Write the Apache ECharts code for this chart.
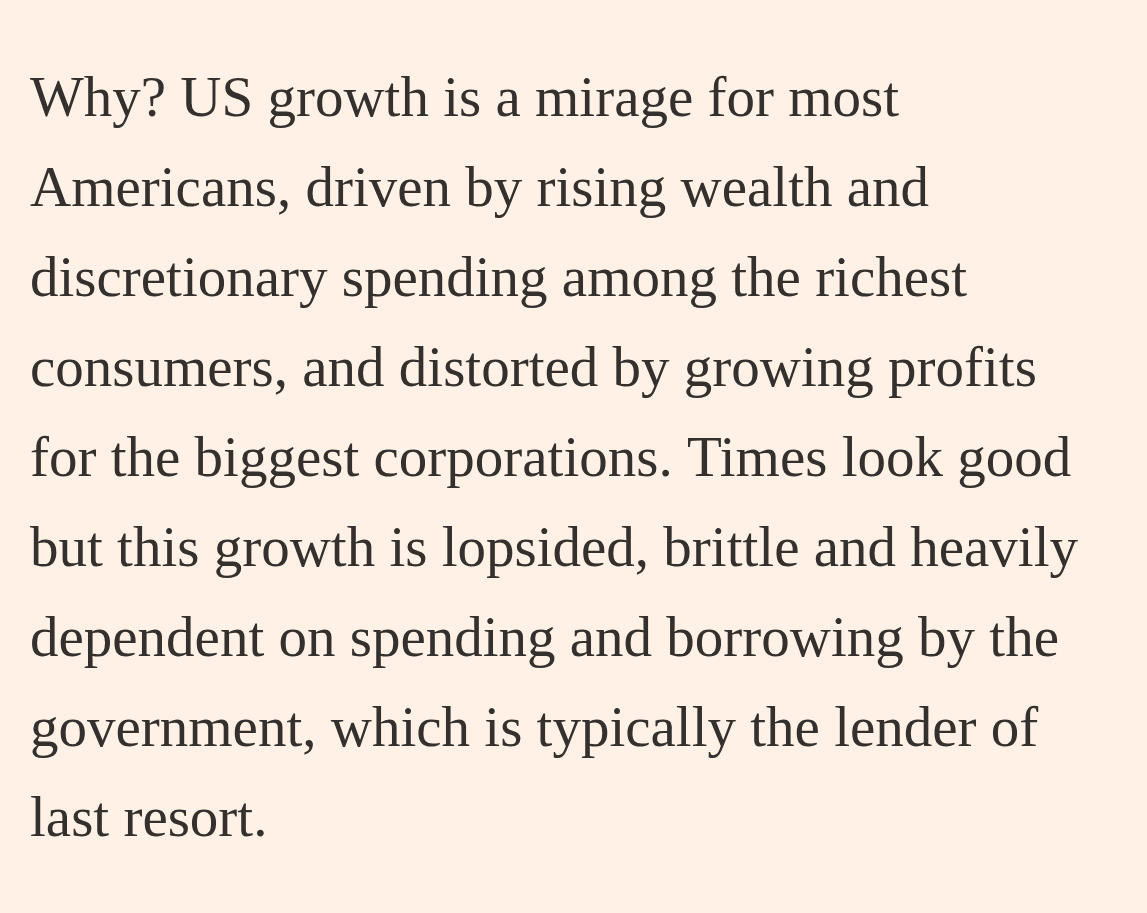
<!DOCTYPE html>
<html>
<head>
<meta charset="utf-8">
<script src="https://cdn.jsdelivr.net/npm/echarts@6/dist/echarts.min.js"></script>
<style>
html, body { margin: 0; padding: 0; background: #fff1e5; }
#chart { width: 1147px; height: 913px; }
</style>
</head>
<body>
<div id="chart"></div>
<script>
var lines = [
    'Why? US growth is a mirage for most',
    'Americans, driven by rising wealth and',
    'discretionary spending among the richest',
    'consumers, and distorted by growing profits',
    'for the biggest corporations. Times look good',
    'but this growth is lopsided, brittle and heavily',
    'dependent on spending and borrowing by the',
    'government, which is typically the lender of',
    'last resort.'
];

var chart = echarts.init(document.getElementById('chart'));
var elements = lines.map(function (line, i) {
    return {
        type: 'text',
        left: 30,
        top: 73 + i * 90,
        style: {
            text: line,
            fill: '#33302e',
            font: '57px "Liberation Serif", "DejaVu Serif", serif'
        }
    };
});
chart.setOption({
    backgroundColor: '#fff1e5',
    graphic: elements
});
</script>
</body>
</html>
